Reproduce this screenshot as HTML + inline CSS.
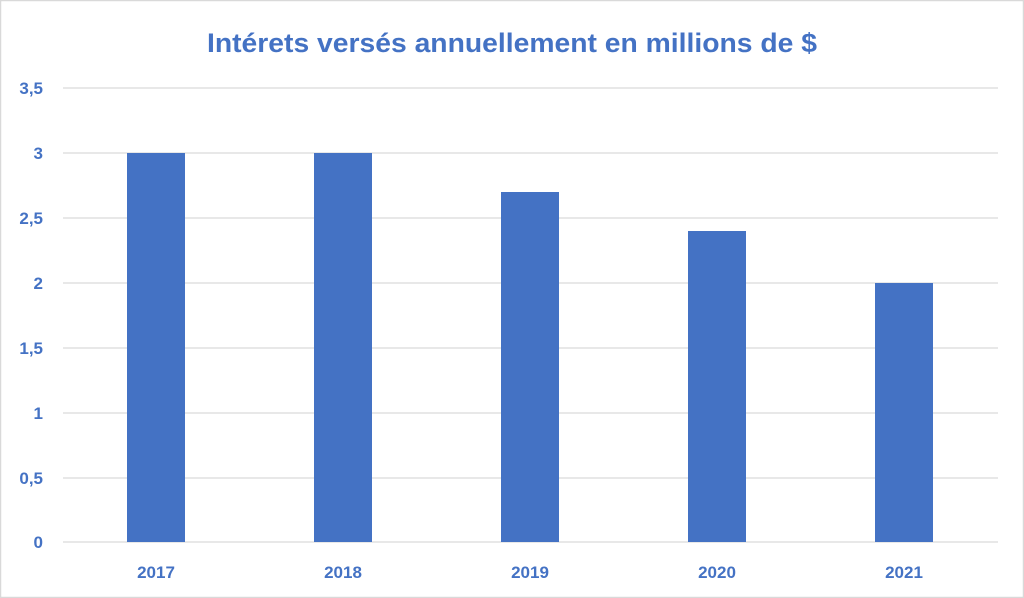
<!DOCTYPE html>
<html><head><meta charset="utf-8"><style>
html,body{margin:0;padding:0;background:#fff;}
svg{display:block;}
</style></head><body>
<svg width="1024" height="598" viewBox="0 0 1024 598" xmlns="http://www.w3.org/2000/svg" font-family="Liberation Sans, sans-serif">
<rect x="0.5" y="0.5" width="1023" height="597" fill="#fff" stroke="#d9d9d9" stroke-width="1.5"/>
<text x="512" y="52" text-anchor="middle" font-size="27" font-weight="bold" fill="#4472C4" textLength="610" lengthAdjust="spacingAndGlyphs">Intérets versés annuellement en millions de $</text>
<g stroke="#d9d9d9" stroke-width="1.3">
<line x1="63" x2="998" y1="88" y2="88"/>
<line x1="63" x2="998" y1="153" y2="153"/>
<line x1="63" x2="998" y1="218" y2="218"/>
<line x1="63" x2="998" y1="283" y2="283"/>
<line x1="63" x2="998" y1="348" y2="348"/>
<line x1="63" x2="998" y1="413" y2="413"/>
<line x1="63" x2="998" y1="478" y2="478"/>
<line x1="63" x2="998" y1="542" y2="542"/>
</g>
<g fill="#4472C4">
<rect x="127" y="153" width="58" height="389"/>
<rect x="314" y="153" width="58" height="389"/>
<rect x="501" y="192" width="58" height="350"/>
<rect x="688" y="231" width="58" height="311"/>
<rect x="875" y="283" width="58" height="259"/>
</g>
<g font-size="17" font-weight="bold" fill="#4472C4" text-anchor="end">
<text x="43" y="94">3,5</text>
<text x="43" y="159">3</text>
<text x="43" y="224">2,5</text>
<text x="43" y="289">2</text>
<text x="43" y="354">1,5</text>
<text x="43" y="419">1</text>
<text x="43" y="484">0,5</text>
<text x="43" y="548">0</text>
</g>
<g font-size="17" font-weight="bold" fill="#4472C4" text-anchor="middle">
<text x="156" y="578">2017</text>
<text x="343" y="578">2018</text>
<text x="530" y="578">2019</text>
<text x="717" y="578">2020</text>
<text x="904" y="578">2021</text>
</g>
</svg>
</body></html>
